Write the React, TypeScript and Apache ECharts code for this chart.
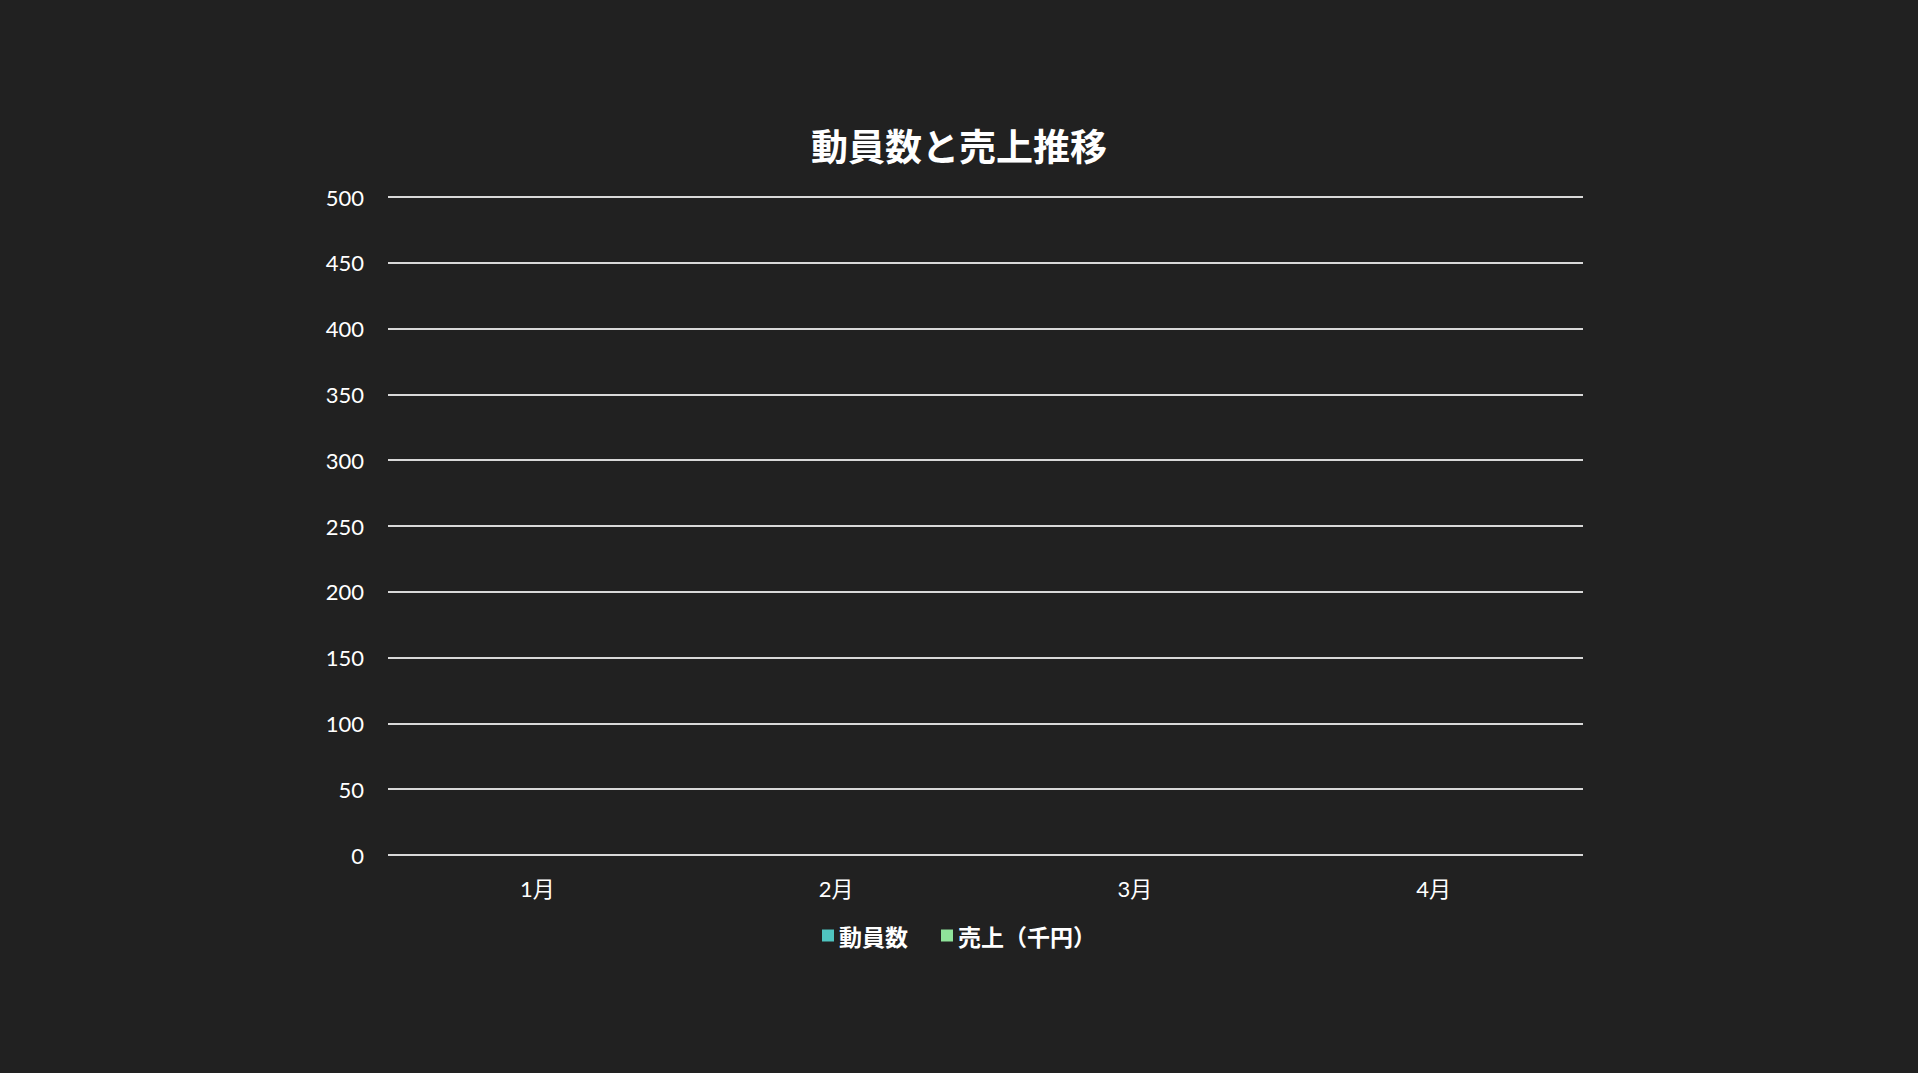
import React, { useEffect, useRef } from "react";
import * as echarts from "echarts";

const months = ["1月", "2月", "3月", "4月"];
const attendance: (number | null)[] = [null, null, null, null];
const sales: (number | null)[] = [null, null, null, null];
const yTicks = [0, 50, 100, 150, 200, 250, 300, 350, 400, 450, 500];

const FONT = "Lato, 'Noto Sans CJK JP', sans-serif";
const CJK = "'Noto Sans CJK JP', sans-serif";

export default function App() {
  const ref = useRef<HTMLDivElement>(null);
  useEffect(() => {
    document.body.style.margin = "0";
    document.body.style.background = "#212121";
    if (!ref.current) return;
    const chart = echarts.init(ref.current, undefined, { renderer: "svg" });
    chart.setOption({
      animation: false,
      backgroundColor: "#212121",
      title: {
        text: "動員数と売上推移",
        left: "center",
        top: 121,
        textStyle: { color: "#ffffff", fontSize: 37, fontWeight: "bold", fontFamily: CJK },
      },
      legend: {
        data: ["動員数", "売上（千円）"],
        top: 919,
        left: "center",
        icon: "rect",
        itemWidth: 12,
        itemHeight: 12,
        itemGap: 33,
        textStyle: { color: "#ffffff", fontSize: 23, fontWeight: "bold", fontFamily: CJK },
      },
      grid: { left: 388, right: 335, top: 197, bottom: 218 },
      xAxis: {
        type: "category",
        data: months,
        axisLine: { show: false },
        axisTick: { show: false },
        axisLabel: { color: "#ffffff", fontSize: 22, margin: 22, fontFamily: FONT },
      },
      yAxis: {
        type: "value",
        min: yTicks[0],
        max: yTicks[yTicks.length - 1],
        interval: yTicks[1] - yTicks[0],
        axisLine: { show: false },
        axisTick: { show: false },
        axisLabel: { color: "#ffffff", fontSize: 22, margin: 24, fontFamily: FONT },
        splitLine: { lineStyle: { color: "#d8d8d8", width: 2 } },
      },
      series: [
        { name: "動員数", type: "bar", data: attendance, itemStyle: { color: "#4FC4C0" } },
        { name: "売上（千円）", type: "bar", data: sales, itemStyle: { color: "#8FE39A" } },
      ],
    });
    return () => chart.dispose();
  }, []);
  return <div ref={ref} style={{ width: "100vw", height: "100vh" }} />;
}
